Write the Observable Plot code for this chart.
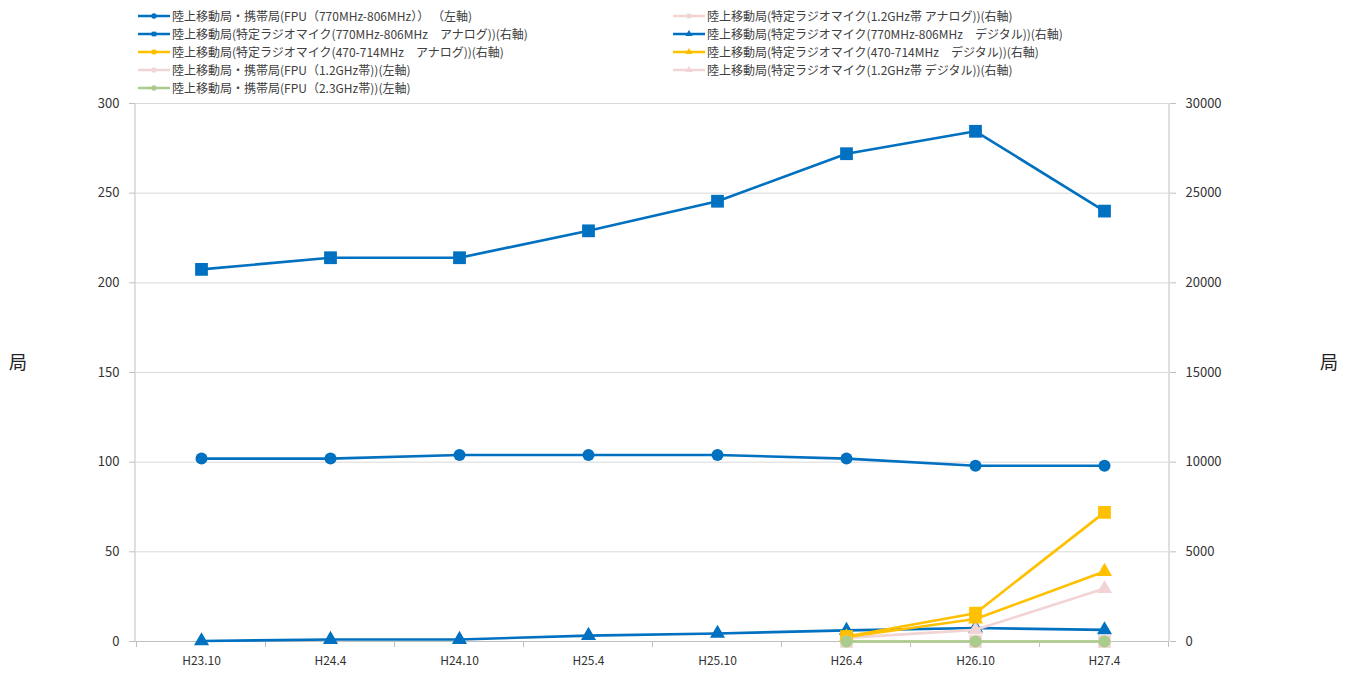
<!DOCTYPE html>
<html>
<head>
<meta charset="utf-8">
<script src="https://cdn.jsdelivr.net/npm/d3@7"></script>
<script src="https://cdn.jsdelivr.net/npm/@observablehq/plot@0.6"></script>
<style>
  html, body { margin: 0; padding: 0; background: #fff; }
  body { width: 1357px; height: 673px; position: relative; overflow: hidden;
         font-family: "Noto Sans CJK JP", "Noto Sans", sans-serif; }
  #legend { position: relative; height: 89px; }
  .item { position: absolute; display: flex; align-items: center; font-size: 12px; color: #404040; white-space: nowrap; }
  .item svg { margin-right: 2px; }
  .unit { position: absolute; font-size: 18px; color: #222; }
</style>
</head>
<body>
<div id="legend"></div>
<div id="chart"></div>
<div class="unit" style="left:9px; top:348px;">局</div>
<div class="unit" style="left:1320px; top:348px;">局</div>
<script>
// ---- data ----
const categories = ["H23.10", "H24.4", "H24.10", "H25.4", "H25.10", "H26.4", "H26.10", "H27.4"];

const leftTicks = [0, 50, 100, 150, 200, 250, 300];
const rightTicks = [0, 5000, 10000, 15000, 20000, 25000, 30000];

// left axis series
const fpu770 = [102, 102, 104, 104, 104, 102, 98, 98];
const fpu12 = [null, null, null, null, null, 0, 0, 0];
const fpu23 = [null, null, null, null, null, 0, 0, 0];
// right axis series
const rm770Analog = [20750, 21400, 21400, 22900, 24550, 27200, 28450, 24000];
const rm470Analog = [null, null, null, null, null, 280, 1580, 7200];
const rm12Analog = [null, null, null, null, null, 0, 0, 0];
const rm770Digital = [30, 110, 110, 330, 450, 620, 750, 650];
const rm470Digital = [null, null, null, null, null, 250, 1250, 3900];
const rm12Digital = [null, null, null, null, null, 200, 650, 2950];

const names = {
  fpu770: "陸上移動局・携帯局(FPU（770MHz-806MHz）） （左軸)",
  rm770Analog: "陸上移動局(特定ラジオマイク(770MHz-806MHz　アナログ))(右軸)",
  rm470Analog: "陸上移動局(特定ラジオマイク(470-714MHz　アナログ))(右軸)",
  fpu12: "陸上移動局・携帯局(FPU（1.2GHz帯))(左軸)",
  fpu23: "陸上移動局・携帯局(FPU（2.3GHz帯))(左軸)",
  rm12Analog: "陸上移動局(特定ラジオマイク(1.2GHz帯 アナログ))(右軸)",
  rm770Digital: "陸上移動局(特定ラジオマイク(770MHz-806MHz　デジタル))(右軸)",
  rm470Digital: "陸上移動局(特定ラジオマイク(470-714MHz　デジタル))(右軸)",
  rm12Digital: "陸上移動局(特定ラジオマイク(1.2GHz帯 デジタル))(右軸)"
};

// ---- styles ----
const BLUE = "#0070C0", YELLOW = "#FFC000", PINK = "#F2D4D4", GREEN = "#A9CB8B";
const series = [
  {key: "fpu770", values: fpu770, axis: "left", color: BLUE, symbol: "circle"},
  {key: "rm770Analog", values: rm770Analog, axis: "right", color: BLUE, symbol: "square"},
  {key: "rm470Analog", values: rm470Analog, axis: "right", color: YELLOW, symbol: "square"},
  {key: "fpu12", values: fpu12, axis: "left", color: PINK, symbol: "circle"},
  {key: "fpu23", values: fpu23, axis: "left", color: GREEN, symbol: "circle"},
  {key: "rm12Analog", values: rm12Analog, axis: "right", color: PINK, symbol: "square"},
  {key: "rm770Digital", values: rm770Digital, axis: "right", color: BLUE, symbol: "triangle"},
  {key: "rm470Digital", values: rm470Digital, axis: "right", color: YELLOW, symbol: "triangle"},
  {key: "rm12Digital", values: rm12Digital, axis: "right", color: PINK, symbol: "triangle"}
];
const symbolR = {circle: 6, square: 7.2, triangle: 5.6};
const drawOrder = ["rm12Analog", "rm770Analog", "rm770Digital", "rm12Digital", "rm470Digital", "rm470Analog", "fpu12", "fpu770", "fpu23"];

// ---- legend ----
const legendPos = [
  [138, 16], [138, 34], [138, 52], [138, 70], [138, 88],
  [673, 16], [673, 34], [673, 52], [673, 70]
];
const legend = document.getElementById("legend");
series.forEach((s, i) => {
  const [lx, ly] = legendPos[i];
  const div = document.createElement("div");
  div.className = "item";
  div.style.left = lx + "px";
  div.style.top = (ly - 9) + "px";
  const sym = d3.create("svg").attr("width", 32).attr("height", 16);
  sym.append("line").attr("x1", 0).attr("x2", 32).attr("y1", 8).attr("y2", 8)
    .attr("stroke", s.color).attr("stroke-width", 2.5);
  const st = s.symbol === "circle" ? d3.symbolCircle : s.symbol === "square" ? d3.symbolSquare : d3.symbolTriangle;
  sym.append("path").attr("d", d3.symbol(st, 22)()).attr("transform", "translate(16,8)").attr("fill", s.color);
  div.appendChild(sym.node());
  const t = document.createElement("span");
  t.textContent = names[s.key];
  div.appendChild(t);
  legend.appendChild(div);
});

// ---- chart ----
const marks = [
  Plot.gridY(leftTicks.slice(1), {stroke: "#D9D9D9", strokeOpacity: 1, strokeWidth: 1}),
  Plot.ruleY([0], {stroke: "#BFBFBF", strokeWidth: 1}),
  Plot.axisY({anchor: "left", ticks: leftTicks, tickSize: 6, tickPadding: 10, stroke: "#BFBFBF", fill: "#333", fontSize: 13}),
  Plot.axisY({anchor: "right", ticks: leftTicks, tickFormat: d => String(d * 100), tickSize: 6, tickPadding: 10, stroke: "#BFBFBF", fill: "#333", fontSize: 13}),
  Plot.axisX({tickSize: 0, tickPadding: 15, fill: "#333", fontSize: 12})
];
for (const key of drawOrder) {
  const s = series.find(d => d.key === key);
  const data = categories.map((c, i) => ({c, v: s.values[i]})).filter(d => d.v != null);
  const y = s.axis === "right" ? (d => d.v / 100) : (d => d.v);
  marks.push(Plot.line(data, {x: "c", y, stroke: s.color, strokeWidth: 2.6}));
  marks.push(Plot.dot(data, {x: "c", y, symbol: s.symbol, fill: s.color, stroke: "none", r: symbolR[s.symbol]}));
}

const W = 1357, H = 584, mT = 14, mB = 32, mL = 135, mR = 188;
const plot = Plot.plot({
  width: W, height: H,
  marginTop: mT, marginBottom: mB, marginLeft: mL, marginRight: mR,
  x: {type: "point", domain: categories, padding: 0.5, label: null},
  y: {domain: [0, 300], label: null},
  style: {fontFamily: "'Noto Sans CJK JP', 'Noto Sans', sans-serif", fontSize: "13px", color: "#333", background: "#fff"},
  marks
});
document.getElementById("chart").appendChild(plot);

// vertical axis lines and category boundary ticks from the x scale
const xs = plot.scale("x");
const [r0, r1] = xs.range;
const step = xs.apply(categories[1]) - xs.apply(categories[0]);
const yBottom = H - mB;
const g = d3.select(plot).insert("g", "g").attr("stroke", "#BFBFBF").attr("stroke-width", 1);
g.append("line").attr("x1", r0).attr("x2", r0).attr("y1", mT).attr("y2", yBottom);
g.append("line").attr("x1", r1).attr("x2", r1).attr("y1", mT).attr("y2", yBottom);
const bounds = categories.map(c => xs.apply(c) - step / 2).concat([xs.apply(categories[categories.length - 1]) + step / 2]);
bounds.forEach(bx => {
  g.append("line").attr("x1", bx).attr("x2", bx).attr("y1", yBottom).attr("y2", yBottom + 6);
});
</script>
</body>
</html>
